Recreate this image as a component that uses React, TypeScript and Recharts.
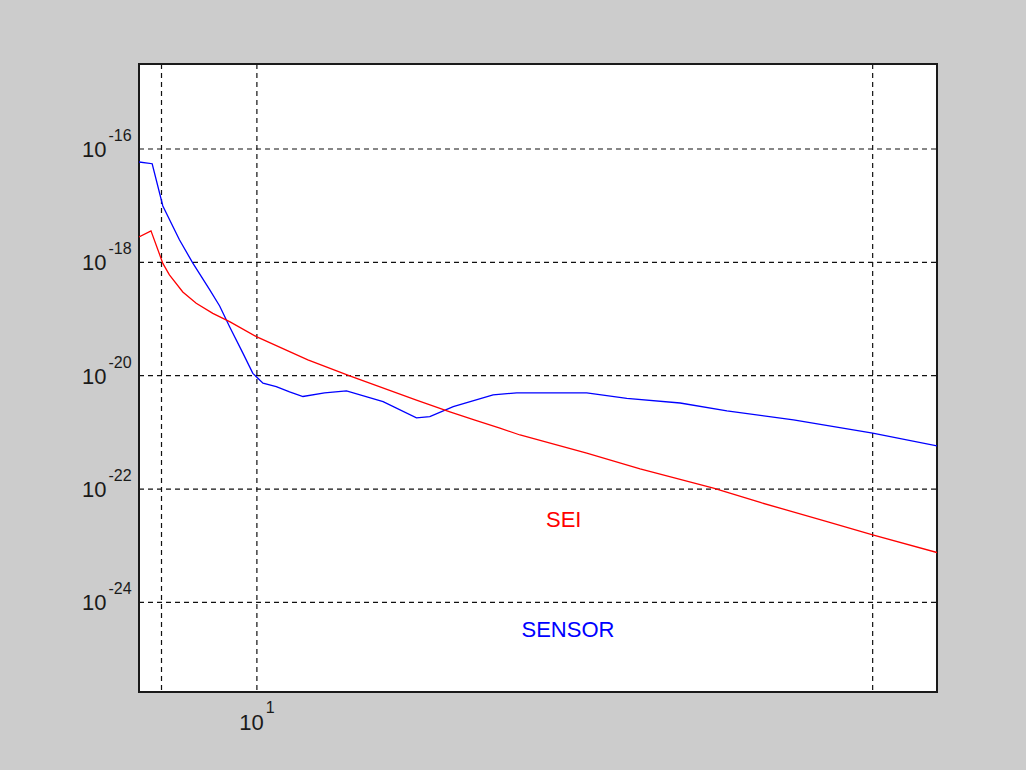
import React from "react";
import { CartesianGrid, LineChart, Line, ReferenceArea, ReferenceDot, XAxis, YAxis } from "recharts";

// frequency (Hz) and amplitude
const sensorFreq = [6.435, 6.76, 7.035, 7.485, 7.87, 8.38, 8.7, 9.03, 9.49, 9.85, 10.23, 10.75, 11.3, 11.88, 12.88, 13.98, 16.03, 18.16, 19.09, 20.84, 24.19, 26.42, 34.33, 39.88, 48.68, 57.99, 74.37, 100, 127.2];
const sensorVal = [5.9e-17, 5.5e-17, 9.9e-18, 2.5e-18, 9.7e-19, 3.3e-19, 1.7e-19, 7.3e-20, 2.5e-20, 1.1e-20, 7.4e-21, 6.4e-21, 5.2e-21, 4.3e-21, 5.0e-21, 5.4e-21, 3.5e-21, 1.8e-21, 1.9e-21, 2.85e-21, 4.6e-21, 5.0e-21, 5.0e-21, 4.0e-21, 3.3e-21, 2.4e-21, 1.66e-21, 9.7e-22, 5.8e-22];

const seiFreq = [6.435, 6.73, 7.035, 7.21, 7.58, 7.97, 8.48, 9.03, 9.98, 11.3, 12.1, 14.15, 18.16, 20.58, 22.6, 24.81, 26.75, 34.33, 41.91, 55.14, 65.69, 84.32, 100, 127.2];
const seiVal = [2.8e-18, 3.6e-18, 9.6e-19, 6.0e-19, 3.0e-19, 1.9e-19, 1.26e-19, 9.0e-20, 4.9e-20, 2.66e-20, 1.9e-20, 9.9e-21, 3.7e-21, 2.3e-21, 1.65e-21, 1.19e-21, 9.0e-22, 4.3e-22, 2.27e-22, 1.04e-22, 5.8e-23, 2.67e-23, 1.56e-23, 7.6e-24];

const xTicks = [7, 10, 100];
const xLabels: Record<number, string> = { 10: "1" };
const yTicks = [1e-16, 1e-18, 1e-20, 1e-22, 1e-24];
const yExp = ["-16", "-18", "-20", "-22", "-24"];

const xDomain = [6.435, 127.2];
const yDomain = [2.63e-26, 3.16e-15];

const sensorData = sensorFreq.map((f, i) => ({ f, v: sensorVal[i] }));
const seiData = seiFreq.map((f, i) => ({ f, v: seiVal[i] }));

const ink = "#1a1a1a";
const font = "'Liberation Sans', Arial, sans-serif";

function YTick(props: any) {
  const { x, y, payload } = props;
  const idx = yTicks.indexOf(payload.value);
  if (idx < 0) return null;
  return (
    <text x={x - 57} y={y + 8} fill={ink} fontSize={22} fontFamily={font} textAnchor="start">
      10
      <tspan dx={2} dy={-16} fontSize={16}>{yExp[idx]}</tspan>
    </text>
  );
}

function XTick(props: any) {
  const { x, y, payload } = props;
  const sup = xLabels[payload.value];
  if (!sup) return null;
  return (
    <text x={x} y={y + 38} fill={ink} fontSize={22} fontFamily={font} textAnchor="middle">
      10
      <tspan dx={2} dy={-17} fontSize={16}>{sup}</tspan>
    </text>
  );
}

export default function App() {
  return (
    <div style={{ position: "fixed", left: 0, top: 0, width: 1026, height: 770, background: "#cccccc" }}>
      <LineChart width={1026} height={770} margin={{ top: 64, right: 89, bottom: 38, left: 0 }}>
        <CartesianGrid fill="#ffffff" stroke="#111111" strokeDasharray="5 4" strokeWidth={1.2} />
        <XAxis
          dataKey="f"
          type="number"
          scale="log"
          domain={xDomain}
          allowDataOverflow
          ticks={xTicks}
          interval={0}
          height={40}
          axisLine={false}
          tickLine={false}
          tickSize={0}
          tickMargin={0}
          tick={<XTick />}
        />
        <YAxis
          dataKey="v"
          type="number"
          scale="log"
          domain={yDomain}
          allowDataOverflow
          ticks={yTicks}
          interval={0}
          width={139}
          axisLine={false}
          tickLine={false}
          tickSize={0}
          tickMargin={0}
          tick={<YTick />}
        />
        <Line data={sensorData} dataKey="v" type="linear" stroke="#0000ff" strokeWidth={1.3} dot={false} isAnimationActive={false} />
        <Line data={seiData} dataKey="v" type="linear" stroke="#ff0000" strokeWidth={1.3} dot={false} isAnimationActive={false} />
        <ReferenceDot x={31.5} y={3.0e-23} r={0} stroke="none" label={{ value: "SEI", fill: "#ff0000", fontSize: 22, fontFamily: font, position: "center" }} />
        <ReferenceDot x={32.0} y={3.4e-25} r={0} stroke="none" label={{ value: "SENSOR", fill: "#0000ff", fontSize: 22, fontFamily: font, position: "center" }} />
        <ReferenceArea x1={xDomain[0]} x2={xDomain[1]} y1={yDomain[0]} y2={yDomain[1]} fill="none" stroke={ink} strokeWidth={2} ifOverflow="visible" />
      </LineChart>
    </div>
  );
}
